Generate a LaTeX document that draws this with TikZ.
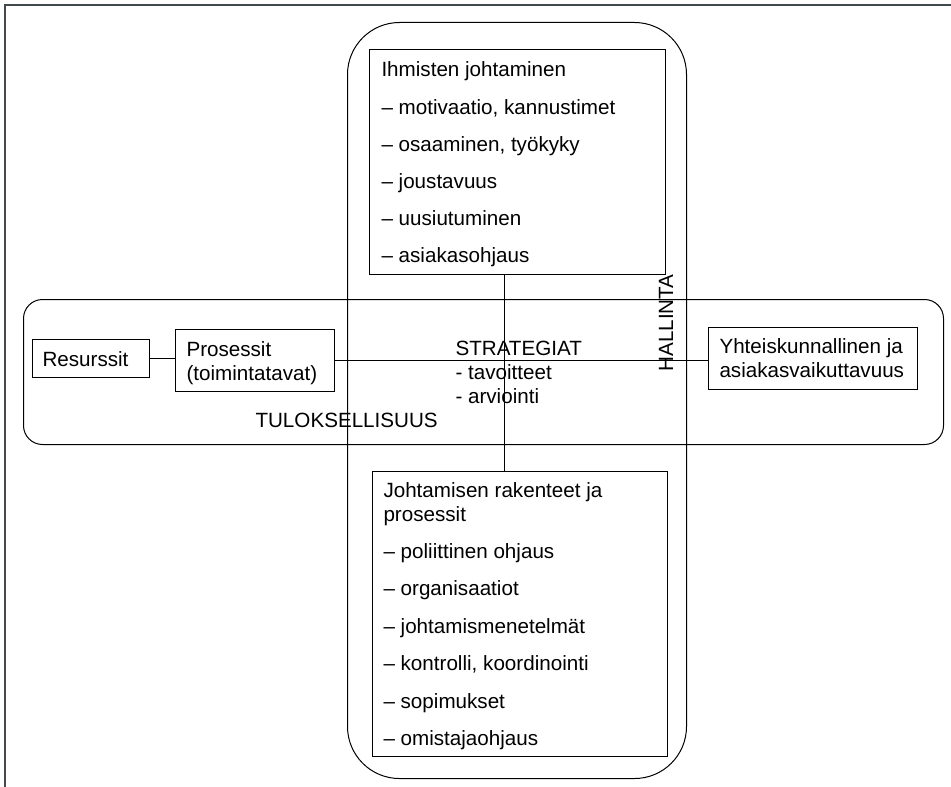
\documentclass[tikz,border=0pt]{standalone}
\usepackage{fontspec}
\setmainfont{Liberation Sans}
\definecolor{framegray}{RGB}{66,74,77}
\begin{document}
\begin{tikzpicture}[x=1bp,y=-1bp,
  line width=1bp,
  txt/.style={anchor=base west, inner sep=0pt, font=\fontsize{20.7}{24}\selectfont},
  box/.style={draw, anchor=north west, inner sep=0pt},
  band/.style={draw, anchor=north west, inner sep=0pt}]
\useasboundingbox (0,0) rectangle (951,787);

% page frame (top and left edges)
\coordinate (fa) at (951,5);
\coordinate (fb) at (5,5);
\coordinate (fc) at (5,787);
\draw[framegray, line width=1.8bp] (fa) -- (fb) -- (fc);

% the two crossing bands
\node[band, rounded corners=52bp, minimum width=339bp, minimum height=756bp] (vband) at (347,22) {};
\node[band, rounded corners=19bp, minimum width=920bp, minimum height=145bp] (hband) at (23,299) {};

% boxes
\node[box, minimum width=296bp, minimum height=225bp] (top) at (369,49) {};
\node[box, minimum width=295bp, minimum height=285bp] (bot) at (372,471) {};
\node[box, minimum width=117bp, minimum height=38bp] (res) at (32,339) {};
\node[box, minimum width=159bp, minimum height=62bp] (pro) at (175,329) {};
\node[box, minimum width=209bp, minimum height=62bp] (yht) at (708,327) {};

% connectors
\coordinate (vx) at (504,0);
\draw (res.east) -- (res.east -| pro.west);
\draw (pro.east) -- (pro.east -| yht.west);
\draw (top.south -| vx) -- (bot.north -| vx);

% texts of the upper box
\foreach \t [count=\i] in {Ihmisten johtaminen, {– motivaatio, kannustimet}, {– osaaminen, työkyky},
    – joustavuus, – uusiutuminen, – asiakasohjaus}
  \node[txt] (ih\i) at (381,40+37*\i) {\t};

% texts of the lower box
\node[txt] (jo1) at (383,497) {Johtamisen rakenteet ja};
\node[txt] (jo2) at (383,521) {prosessit};
\foreach \t [count=\i] in {– poliittinen ohjaus, – organisaatiot, – johtamismenetelmät,
    {– kontrolli, koordinointi}, – sopimukset, – omistajaohjaus}
  \node[txt] (jl\i) at (383,520.5+37.5*\i) {\t};

% texts of the small boxes
\node[txt] (rest) at (42,366) {Resurssit};
\node[txt] (pro1) at (186,356) {Prosessit};
\node[txt] (pro2) at (186,380) {(toimintatavat)};
\node[txt] (yht1) at (719,353) {Yhteiskunnallinen ja};
\node[txt] (yht2) at (719,377) {asiakasvaikuttavuus};

% free labels
\node[txt] (str1) at (455,355) {STRATEGIAT};
\node[txt] (str2) at (455,379) {- tavoitteet};
\node[txt] (str3) at (455,403) {- arviointi};
\node[txt] (tulos) at (255,427) {TULOKSELLISUUS};
\node[txt, rotate=90] (hall) at (673,372) {HALLINTA};
\end{tikzpicture}
\end{document}
